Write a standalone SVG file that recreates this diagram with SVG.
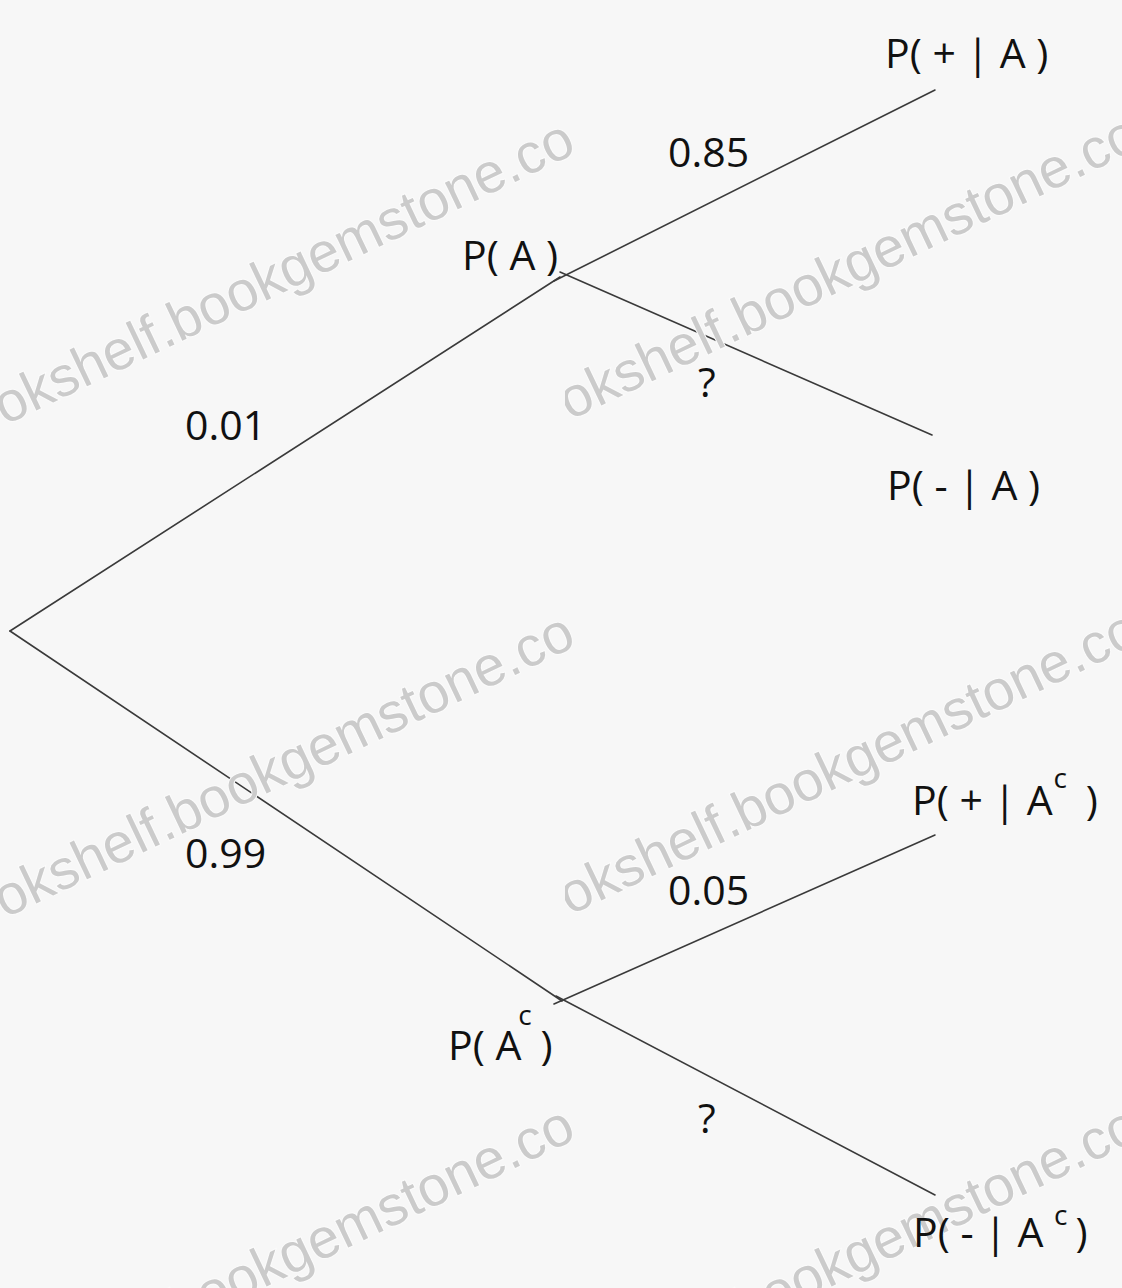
<svg xmlns="http://www.w3.org/2000/svg" width="1122" height="1288" viewBox="0 0 1122 1288">
<style>
.edge{stroke:#3a3a3a;stroke-width:1.6;fill:none;stroke-linecap:round}
.lbl{font-family:"Open Sans","Noto Sans",sans-serif;font-size:41px;fill:#111}
.sup{font-size:28px}
.wm{font-family:"Liberation Sans",Arial,sans-serif;font-size:56px;fill:#cbcbcb;stroke:#fbfbfb;stroke-width:2;paint-order:stroke}
</style>
<defs>
<clipPath id="col2"><rect x="565" y="0" width="600" height="1288"/></clipPath>
</defs>
<rect width="1122" height="1288" fill="#f7f7f7"/>
<g id="connectors">
<line class="edge" x1="10" y1="631" x2="560" y2="277"/>
<line class="edge" x1="10" y1="631" x2="562" y2="1001"/>
<line class="edge" x1="554" y1="281" x2="935" y2="90"/>
<line class="edge" x1="560" y1="272" x2="932" y2="435"/>
<line class="edge" x1="554" y1="1004" x2="935" y2="835"/>
<line class="edge" x1="556" y1="996" x2="935" y2="1195"/>
</g>
<g id="watermark">
<text class="wm" text-anchor="end" transform="translate(578,152) rotate(-25.5)">bookshelf.bookgemstone.co</text>
<text class="wm" text-anchor="end" transform="translate(578,645) rotate(-25.5)">bookshelf.bookgemstone.co</text>
<text class="wm" text-anchor="end" transform="translate(578,1138) rotate(-25.5)">bookshelf.bookgemstone.co</text>
<g clip-path="url(#col2)">
<text class="wm" text-anchor="end" transform="translate(1143,147) rotate(-25.5)">bookshelf.bookgemstone.co</text>
<text class="wm" text-anchor="end" transform="translate(1143,642) rotate(-25.5)">bookshelf.bookgemstone.co</text>
<text class="wm" text-anchor="end" transform="translate(1143,1138) rotate(-25.5)">bookshelf.bookgemstone.co</text>
</g>
</g>
<g id="edge-labels">
<text class="lbl" x="668" y="167">0.85</text>
<text class="lbl" x="698" y="397">?</text>
<text class="lbl" x="185" y="440">0.01</text>
<text class="lbl" x="185" y="868">0.99</text>
<text class="lbl" x="668" y="905">0.05</text>
<text class="lbl" x="698" y="1133">?</text>
</g>
<g id="node-root"></g>
<g id="node-PA"><text class="lbl" x="462" y="270">P( A )</text></g>
<g id="node-PAc"><text class="lbl" x="448" y="1060">P( A<tspan class="sup" dx="-3" dy="-35">c</tspan><tspan dx="-2" dy="35"> )</tspan></text></g>
<g id="node-PplusA"><text class="lbl" x="885" y="68">P( + | A )</text></g>
<g id="node-PminusA"><text class="lbl" x="887" y="500">P( - | A )</text></g>
<g id="node-PplusAc"><text class="lbl" x="912" y="815">P( + | A<tspan class="sup" dx="1" dy="-27">c</tspan><tspan dx="8" dy="27"> )</tspan></text></g>
<g id="node-PminusAc"><text class="lbl" x="913" y="1247">P( - | A <tspan class="sup" dy="-22">c</tspan><tspan dx="8" dy="22">)</tspan></text></g>
</svg>
